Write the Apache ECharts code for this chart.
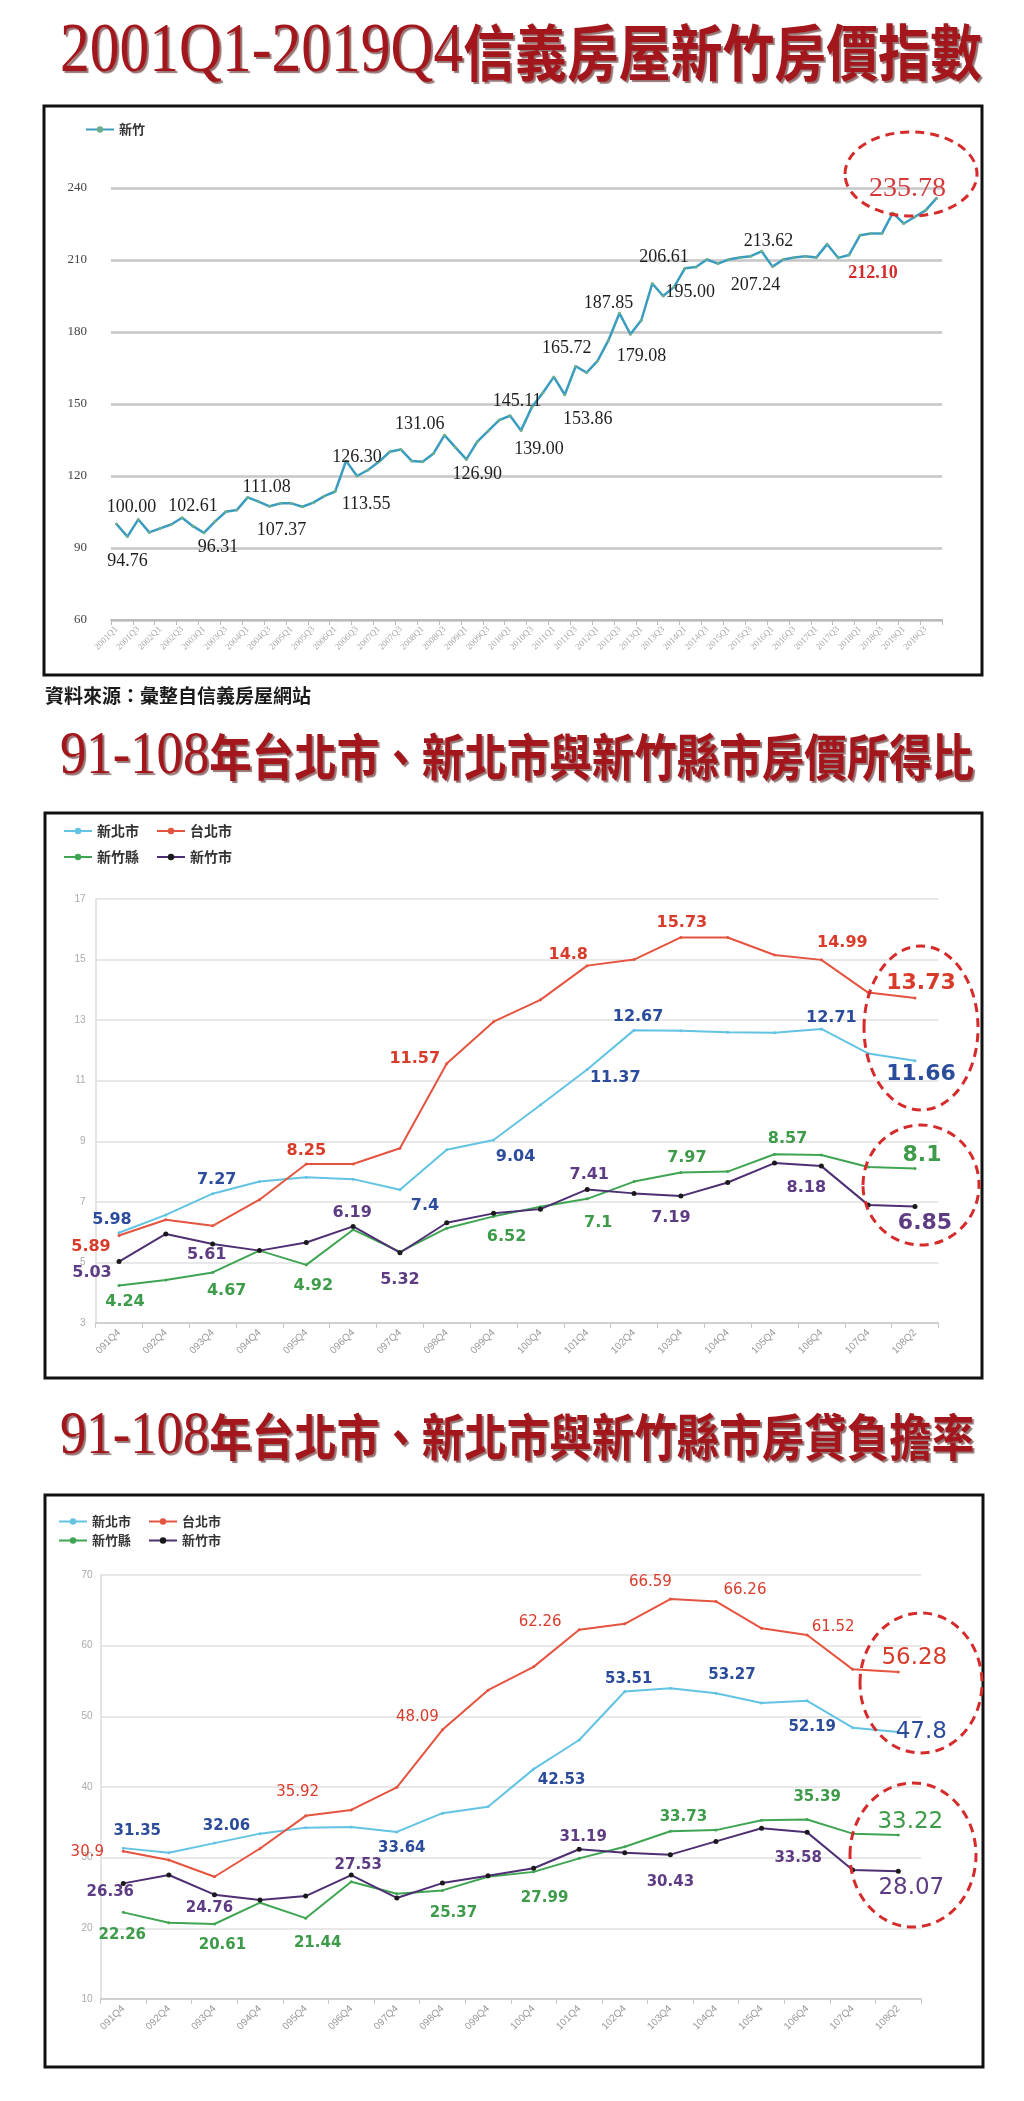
<!DOCTYPE html>
<html>
<head>
<meta charset="utf-8">
<script src="https://cdn.jsdelivr.net/npm/echarts@6/dist/echarts.min.js"></script>
<style>
html,body{margin:0;padding:0;background:#fff;}
#main{width:1024px;height:2101px;}
</style>
</head>
<body>
<div id="main"></div>
<script>
// ---------------- DATA ----------------
const quarters = ['2001Q1','2001Q2','2001Q3','2001Q4','2002Q1','2002Q2','2002Q3','2002Q4','2003Q1','2003Q2','2003Q3','2003Q4',
'2004Q1','2004Q2','2004Q3','2004Q4','2005Q1','2005Q2','2005Q3','2005Q4','2006Q1','2006Q2','2006Q3','2006Q4',
'2007Q1','2007Q2','2007Q3','2007Q4','2008Q1','2008Q2','2008Q3','2008Q4','2009Q1','2009Q2','2009Q3','2009Q4',
'2010Q1','2010Q2','2010Q3','2010Q4','2011Q1','2011Q2','2011Q3','2011Q4','2012Q1','2012Q2','2012Q3','2012Q4',
'2013Q1','2013Q2','2013Q3','2013Q4','2014Q1','2014Q2','2014Q3','2014Q4','2015Q1','2015Q2','2015Q3','2015Q4',
'2016Q1','2016Q2','2016Q3','2016Q4','2017Q1','2017Q2','2017Q3','2017Q4','2018Q1','2018Q2','2018Q3','2018Q4',
'2019Q1','2019Q2','2019Q3','2019Q4'];
const hsinchuIndex = [100.00,94.76,101.9,96.5,98.2,99.8,102.61,99.1,96.31,101.0,105.1,105.8,
111.08,109.3,107.37,108.6,108.6,107.2,108.9,111.6,113.55,126.30,120.0,122.5,
125.9,130.1,131.06,126.3,125.9,129.4,137.0,131.9,126.90,134.3,138.8,143.3,
145.11,139.00,148.8,154.7,161.3,153.86,165.72,163.1,168.0,176.6,187.85,179.08,
184.9,200.2,195.00,198.8,206.61,207.1,210.2,208.5,210.2,211.0,211.6,213.62,
207.24,210.2,211.0,211.6,211.0,216.6,210.9,212.10,220.3,221.0,221.0,229.6,
225.2,227.9,230.7,235.78];
const indexTicks = [60, 240, 30]; // min, max, step

const years = ['091Q4','092Q4','093Q4','094Q4','095Q4','096Q4','097Q4','098Q4','099Q4',
'100Q4','101Q4','102Q4','103Q4','104Q4','105Q4','106Q4','107Q4','108Q2'];

const ratioNewTaipei     = [5.98,6.57,7.27,7.67,7.81,7.75,7.4,8.72,9.04,10.2,11.37,12.67,12.65,12.6,12.58,12.71,11.9,11.66];
const ratioTaipei        = [5.89,6.41,6.21,7.07,8.25,8.25,8.77,11.57,12.95,13.67,14.8,15.0,15.73,15.73,15.15,14.99,13.91,13.73];
const ratioHsinchuCounty = [4.24,4.42,4.67,5.39,4.92,6.08,5.35,6.13,6.52,6.84,7.1,7.67,7.97,8.0,8.57,8.55,8.15,8.1];
const ratioHsinchuCity   = [5.03,5.94,5.61,5.39,5.66,6.19,5.32,6.31,6.62,6.76,7.41,7.28,7.19,7.64,8.28,8.18,6.9,6.85];
const ratioTicks = [3, 17, 2];

const burdenNewTaipei     = [31.35,30.7,32.06,33.4,34.25,34.35,33.64,36.3,37.2,42.53,46.65,53.51,53.99,53.27,51.9,52.19,48.4,47.8];
const burdenTaipei        = [30.9,29.67,27.3,31.3,35.92,36.75,39.96,48.09,53.7,57.0,62.26,63.1,66.59,66.26,62.45,61.52,56.65,56.28];
const burdenHsinchuCounty = [22.26,20.8,20.61,23.63,21.44,26.6,24.9,25.37,27.3,27.99,29.9,31.55,33.73,33.9,35.3,35.39,33.4,33.22];
const burdenHsinchuCity   = [26.36,27.55,24.76,24.0,24.57,27.53,24.3,26.4,27.43,28.5,31.19,30.7,30.43,32.3,34.17,33.58,28.26,28.07];
const burdenTicks = [10, 70, 10];

const names = ['新北市','台北市','新竹縣','新竹市'];

// ---------------- STYLE / LABEL PLACEMENT ----------------
const C = {
  nt: {line:'#62c3e3', label:'#2b4b9b'},
  tp: {line:'#e4543f', label:'#d93b2b'},
  hc: {line:'#3fa553', label:'#3d9b4a'},
  hs: {line:'#4e2f73', label:'#5e3c83'}
};
const off1 = {0:[15,-17],1:[0,25],6:[11,-11],8:[14,14],12:[19,-10],14:[12,24],20:[31,13],21:[11,-4],26:[19,-25],
  32:[11,15],36:[7,-14],37:[18,19],41:[23,25],42:[-9,-18],46:[-11,-10],47:[11,22],50:[27,-4],52:[-21,-11],
  59:[7,-10],60:[-17,19],67:[24,18],75:[-29,-9]};
const special1 = {67:{color:'#d42a2a',fontWeight:'bold'},75:{color:'#d43a3a',fontSize:28}};

const off2 = {
  nt:{0:[-7,-13],2:[4,-14],6:[25,16],8:[22,17],10:[28,8],11:[4,-13],15:[10,-11],17:[6,14]},
  tp:{0:[-28,11],4:[0,-13],7:[-32,-5],10:[-19,-11],12:[1,-15],15:[21,-17],17:[6,-15]},
  hc:{0:[6,16],2:[14,18],4:[7,21],8:[13,20],10:[11,24],12:[6,-15],14:[13,-15],17:[7,-13]},
  hs:{0:[-27,11],2:[-6,11],5:[-1,-14],6:[0,27],10:[2,-15],12:[-10,22],15:[-15,22],17:[10,17]}
};
const off3 = {
  nt:{0:[14,-17],2:[12,-17],6:[5,16],9:[28,11],11:[4,-12],13:[16,-18],15:[5,26],17:[23,0]},
  tp:{0:[-36,1],4:[-8,-24],7:[-25,-13],10:[-39,-8],12:[-20,-17],13:[29,-11],15:[26,-8],17:[16,-14]},
  hc:{0:[-1,23],2:[8,21],4:[12,25],7:[11,23],9:[11,26],12:[13,-14],15:[10,-22],17:[12,-13]},
  hs:{0:[-13,9],2:[-5,13],5:[7,-10],10:[4,-12],12:[0,27],15:[-9,26],17:[13,17]}
};

function mkData(values, offsets, opt) {
  return values.map((v, i) => {
    const off = offsets[i];
    if (!off) return v;
    const big = opt.bigLast && i === values.length - 1;
    const lab = {
      show: true, position: 'inside', offset: off, align: 'center', verticalAlign: 'middle',
      color: opt.color, fontFamily: opt.font,
      fontSize: big ? opt.bigSize : opt.size,
      fontWeight: big ? (opt.bigWeight || opt.weight) : opt.weight
    };
    if (opt.fixed) lab.formatter = p => Number(p.value).toFixed(opt.fixed);
    if (opt.special && opt.special[i]) Object.assign(lab, opt.special[i]);
    return {value: v, label: lab};
  });
}

function lineSeries(name, values, xi, key, offsets, sizes) {
  const isCity = key === 'hs';
  return {
    name: name, type: 'line', xAxisIndex: xi, yAxisIndex: xi,
    data: mkData(values, offsets, Object.assign({color: C[key].label, font: 'DejaVu Sans', bigLast: true}, sizes)),
    symbol: 'circle', symbolSize: isCity ? 5 : 3, showSymbol: true,
    lineStyle: {color: C[key].line, width: 2},
    itemStyle: {color: isCity ? '#1a1a1a' : C[key].line},
    label: {show: false}, z: 3
  };
}

const sz2 = {size: 16, weight: 'bold', bigSize: 22, bigWeight: 'bold'};
const sz3 = {size: 15, weight: 'bold', bigSize: 23, bigWeight: 'normal'};

const catX = (gi, data, opts) => Object.assign({
  type: 'category', gridIndex: gi, data: data, boundaryGap: true,
  axisLine: {show: true, lineStyle: {color: '#c8c8c8', width: 1.5}},
  axisTick: {show: true, lineStyle: {color: '#c8c8c8'}},
  axisLabel: {rotate: 45, fontSize: 10, color: '#999', interval: 0}
}, opts);

const valY = (gi, t, opts) => Object.assign({
  type: 'value', gridIndex: gi, min: t[0], max: t[1], interval: t[2],
  axisLine: {show: true, lineStyle: {color: '#dcdcdc', width: 1.5}},
  axisTick: {show: false},
  splitLine: {lineStyle: {color: '#e0e0e0', width: 1.5}},
  axisLabel: {fontSize: 10, color: '#aaa'}
}, opts);

const legendBase = {itemWidth: 28, itemHeight: 8, itemGap: 17, orient: 'horizontal',
  textStyle: {fontSize: 14, color: '#333', fontWeight: 'bold', fontFamily: 'Noto Sans CJK TC'}};

const titleText = (y, latin, cjk, lsz, csz, sx) => ({
  type: 'text', x: 60, y: y, scaleX: sx, z: 10,
  style: {
    text: '{a|' + latin + '}{b|' + cjk + '}', verticalAlign: 'middle', align: 'left',
    rich: {
      a: {fontFamily: 'Liberation Serif', fontSize: lsz, fill: '#a3161c', textShadowColor: 'rgba(60,0,0,0.55)', textShadowOffsetX: 2, textShadowOffsetY: 2, textShadowBlur: 1},
      b: {fontFamily: 'Noto Sans CJK TC', fontWeight: 'bold', fontSize: csz, fill: '#a3161c', textShadowColor: 'rgba(60,0,0,0.55)', textShadowOffsetX: 2, textShadowOffsetY: 2, textShadowBlur: 1}
    }
  }
});

const ellipse = (cx, cy, rx, ry) => ({
  type: 'ellipse', shape: {cx: cx, cy: cy, rx: rx, ry: ry}, z: 20,
  style: {fill: 'none', stroke: '#d52b2b', lineWidth: 3, lineDash: [9, 6]}
});
const box = (x, y, w, h) => ({
  type: 'rect', shape: {x: x, y: y, width: w, height: h}, z: 0,
  style: {fill: 'none', stroke: '#111', lineWidth: 3}
});

const option = {
  animation: false,
  backgroundColor: '#fff',
  grid: [
    {left: 111, width: 831, top: 188, height: 432},
    {left: 95.6, width: 842.8, top: 899, height: 424},
    {left: 100.5, width: 820.6, top: 1575, height: 424}
  ],
  xAxis: [
    catX(0, quarters, {
      axisTick: {show: true, interval: 1, lineStyle: {color: '#bbb'}},
      axisLine: {show: true, lineStyle: {color: '#bbb', width: 2}},
      axisLabel: {rotate: 45, fontSize: 9, color: '#aaa', interval: 1, fontFamily: 'Liberation Serif'}
    }),
    catX(1, years, {}),
    catX(2, years, {})
  ],
  yAxis: [
    valY(0, indexTicks, {
      axisLine: {show: false},
      splitLine: {lineStyle: {color: '#c6c6c6', width: 2.5}},
      axisLabel: {fontSize: 13, color: '#444', fontFamily: 'Liberation Serif', margin: 24}
    }),
    valY(1, ratioTicks, {axisLabel: {fontSize: 10, color: '#aaa', margin: 10}}),
    valY(2, burdenTicks, {axisLabel: {fontSize: 10, color: '#aaa', margin: 8}})
  ],
  legend: [
    Object.assign({}, legendBase, {data: ['新竹'], left: 80, top: 118, textStyle: {fontSize: 13, color: '#333', fontWeight: 'bold', fontFamily: 'Noto Sans CJK TC'}}),
    Object.assign({}, legendBase, {data: ['新北市', '台北市'], left: 58, top: 819}),
    Object.assign({}, legendBase, {data: ['新竹縣', '新竹市'], left: 58, top: 845}),
    Object.assign({}, legendBase, {data: ['新北市', '台北市'], left: 53, top: 1510, textStyle: {fontSize: 13, color: '#333', fontWeight: 'bold', fontFamily: 'Noto Sans CJK TC'}}),
    Object.assign({}, legendBase, {data: ['新竹縣', '新竹市'], left: 53, top: 1529, textStyle: {fontSize: 13, color: '#333', fontWeight: 'bold', fontFamily: 'Noto Sans CJK TC'}})
  ],
  series: [
    {
      name: '新竹', type: 'line', xAxisIndex: 0, yAxisIndex: 0,
      data: mkData(hsinchuIndex, off1, {color: '#1e1e1e', font: 'Liberation Serif', size: 18, weight: 'normal', special: special1, fixed: 2}),
      symbol: 'circle', symbolSize: 3, showSymbol: true,
      lineStyle: {color: '#3a9cbf', width: 2.5}, itemStyle: {color: '#6fae8a'},
      label: {show: false}
    },
    lineSeries(names[0], ratioNewTaipei, 1, 'nt', off2.nt, sz2),
    lineSeries(names[1], ratioTaipei, 1, 'tp', off2.tp, sz2),
    lineSeries(names[2], ratioHsinchuCounty, 1, 'hc', off2.hc, sz2),
    lineSeries(names[3], ratioHsinchuCity, 1, 'hs', off2.hs, sz2),
    lineSeries(names[0], burdenNewTaipei, 2, 'nt', off3.nt, sz3),
    lineSeries(names[1], burdenTaipei, 2, 'tp', off3.tp, Object.assign({}, sz3, {weight: 'normal'})),
    lineSeries(names[2], burdenHsinchuCounty, 2, 'hc', off3.hc, sz3),
    lineSeries(names[3], burdenHsinchuCity, 2, 'hs', off3.hs, sz3)
  ],
  graphic: [
    box(44, 106, 938, 569),
    box(45, 813, 937, 565),
    box(45, 1495, 938, 572),
    titleText(53, '2001Q1-2019Q4', '信義房屋新竹房價指數', 70, 61, 0.85),
    titleText(757, '91-108', '年台北市、新北市與新竹縣市房價所得比', 62, 50, 0.85),
    titleText(1437, '91-108', '年台北市、新北市與新竹縣市房貸負擔率', 62, 50, 0.85),
    {type: 'text', x: 45, y: 696, z: 10,
     style: {text: '資料來源：彙整自信義房屋網站', fontFamily: 'Noto Sans CJK TC', fontWeight: 'bold', fontSize: 19, fill: '#1a1a1a', verticalAlign: 'middle'}},
    ellipse(911, 174, 66, 42),
    ellipse(921, 1028, 57, 82),
    ellipse(921, 1185, 58, 60),
    ellipse(921, 1683, 61, 70),
    ellipse(913, 1855, 63, 72)
  ]
};

const chart = echarts.init(document.getElementById('main'));
chart.setOption(option);
</script>
</body>
</html>
